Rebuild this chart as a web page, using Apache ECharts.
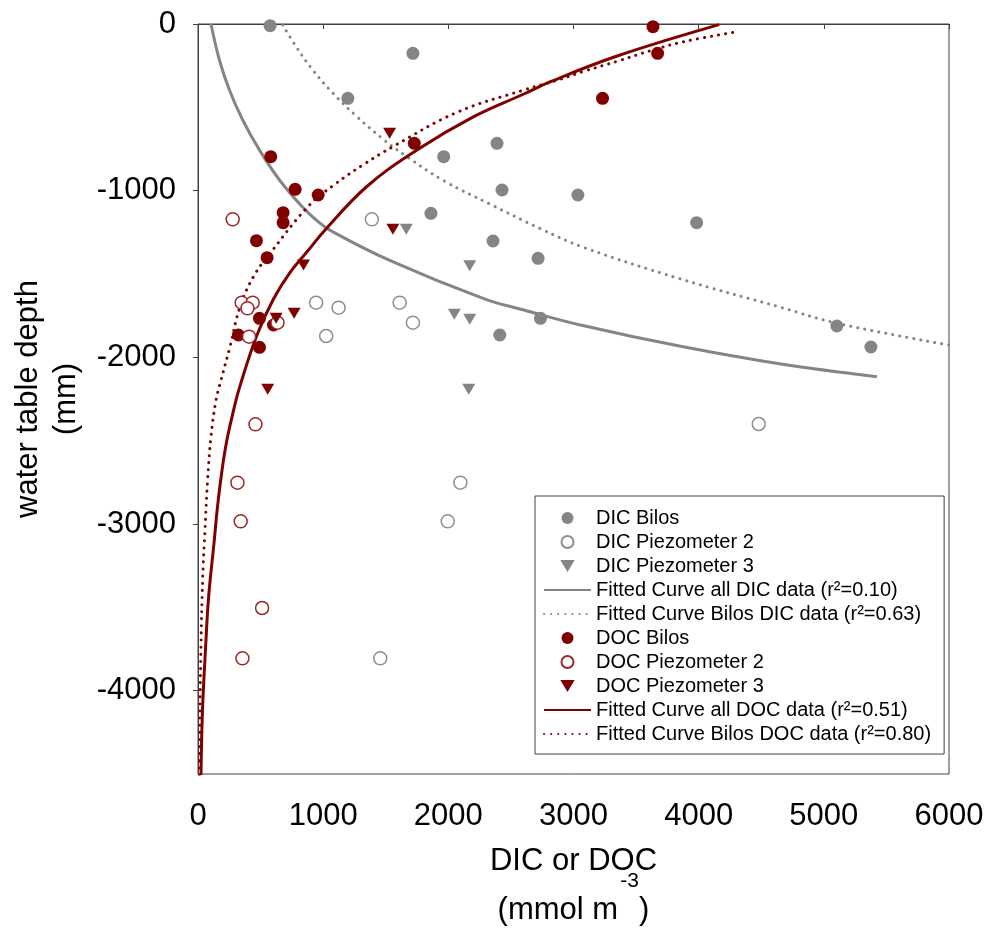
<!DOCTYPE html>
<html lang="en">
<head>
    <meta charset="UTF-8">
    <title>DIC / DOC vs water table depth</title>
    <script src="https://cdn.jsdelivr.net/npm/echarts@6/dist/echarts.min.js"></script>
    <style>
        body {
            margin: 0;
            padding: 0;
            background: #fff;
        }
        #chart {
            width: 990px;
            height: 940px;
        }
    </style>
</head>
<body>
<div id="chart"></div>
<script>
    // [concentration (mmol m-3), water table depth (mm)]
    const dicBilos = [[576, -10], [1717, -176], [1197, -446], [2389, -716], [1963, -796], [2429, -996],
        [3035, -1026], [1861, -1136], [3984, -1192], [2357, -1302], [2717, -1406], [2736, -1766],
        [5104, -1812], [2411, -1866], [5376, -1938]];
    const dicPiezo2 = [[1389, -1172], [944, -1672], [1611, -1672], [1123, -1702], [1717, -1792],
        [1024, -1872], [4480, -2400], [2096, -2752], [1995, -2984], [1456, -3806]];
    const dicPiezo3 = [[1664, -1232], [2171, -1450], [2048, -1742], [2171, -1772], [2163, -2192]];
    const docBilos = [[3635, -16], [3672, -176], [3232, -446], [1728, -716], [581, -796], [776, -992],
        [960, -1026], [680, -1132], [680, -1192], [467, -1300], [552, -1402], [491, -1766],
        [603, -1806], [323, -1866], [491, -1940]];
    const docPiezo2 = [[277, -1172], [349, -1672], [437, -1672], [395, -1706], [635, -1792],
        [408, -1876], [459, -2402], [315, -2752], [341, -2984], [512, -3504], [355, -3806]];
    const docPiezo3 = [[1531, -656], [1557, -1232], [843, -1446], [768, -1736], [624, -1766], [557, -2192]];

    // fitted curves
    const fitAllDic = [[104, 0], [171, -216], [251, -396], [357, -576], [491, -756], [651, -936],
        [837, -1100], [944, -1176], [1056, -1238], [1536, -1420], [2283, -1648], [2603, -1716],
        [3056, -1806], [3856, -1934], [4656, -2040], [5424, -2116]];
    const fitBilosDic = [[677, -6], [784, -136], [917, -276], [1077, -414], [1264, -552], [1477, -690],
        [1669, -796], [1963, -940], [2336, -1082], [2736, -1228], [3080, -1340], [3856, -1530],
        [4656, -1700], [5109, -1796], [6000, -1926]];
    const fitAllDoc = [[24, -4506], [35, -4136], [61, -3736], [85, -3436], [125, -3136], [165, -2836],
        [221, -2536], [291, -2296], [336, -2170], [469, -1870], [603, -1650], [736, -1490],
        [883, -1356], [1003, -1246], [1349, -975], [1749, -756], [2203, -556], [2603, -420],
        [2816, -346], [3349, -192], [4163, -4]];
    const fitBilosDoc = [[11, -4506], [16, -4136], [24, -3736], [37, -3336], [56, -3036], [77, -2736],
        [104, -2476], [144, -2256], [184, -2136], [256, -1936], [336, -1696], [443, -1516],
        [576, -1376], [891, -1086], [1104, -956], [1317, -846], [1557, -736], [2069, -530],
        [2603, -396], [2869, -338], [3083, -284], [3349, -224], [3616, -160], [3883, -106], [4277, -50]];

    const xTicks = [0, 1000, 2000, 3000, 4000, 5000, 6000];
    const yTicks = [0, -1000, -2000, -3000, -4000];

    const GRAY = '#858585';
    const RED = '#800000';
    const FONT = 'Liberation Sans, Arial, sans-serif';
    const TRI_DOWN = 'path://M0,0L12,0L6,10Z';

    function scatter(name, data, color, open, symbol) {
        return {
            name: name,
            type: 'scatter',
            data: data,
            z: 3,
            symbol: symbol || 'circle',
            symbolSize: symbol ? [13, 11] : 13,
            itemStyle: open
                ? { color: '#fff', borderColor: color, borderWidth: 1.5, opacity: 1 }
                : { color: color, opacity: 1 }
        };
    }

    function curve(name, data, color, dotted) {
        return {
            name: name,
            type: 'line',
            data: data,
            z: 2,
            symbol: 'none',
            smooth: 0.4,
            clip: true,
            itemStyle: { color: color },
            lineStyle: dotted
                ? { color: color, width: 3, type: [0.1, 7], cap: 'round' }
                : { color: color, width: 3 }
        };
    }

    // legend entries; curves get no marker in their icon
    const legendItems = [
        { name: 'DIC Bilos' },
        { name: 'DIC Piezometer 2' },
        { name: 'DIC Piezometer 3' },
        { name: 'Fitted Curve all DIC data (r²=0.10)', itemStyle: { opacity: 0 } },
        { name: 'Fitted Curve Bilos DIC data (r²=0.63)', itemStyle: { opacity: 0 } },
        { name: 'DOC Bilos' },
        { name: 'DOC Piezometer 2' },
        { name: 'DOC Piezometer 3' },
        { name: 'Fitted Curve all DOC data (r²=0.51)', itemStyle: { opacity: 0 } },
        { name: 'Fitted Curve Bilos DOC data (r²=0.80)', itemStyle: { opacity: 0 } }
    ];

    const chart = echarts.init(document.getElementById('chart'), null, { renderer: 'canvas' });

    chart.setOption({
        animation: false,
        textStyle: { fontFamily: FONT },
        grid: {
            left: 198, right: 41, top: 24, bottom: 166,
            show: true, borderColor: '#404040', borderWidth: 1,
            outerBoundsMode: 'none'
        },
        legend: {
            orient: 'vertical',
            left: 535, top: 496,
            padding: [12, 13, 10, 8],
            itemWidth: 47, itemHeight: 12, itemGap: 4, itemTextGap: 12,
            borderColor: '#404040', borderWidth: 1,
            backgroundColor: '#fff',
            textStyle: { fontSize: 20, color: '#000', fontFamily: FONT },
            data: legendItems
        },
        xAxis: {
            type: 'value', min: 0, max: 6000, interval: 1000,
            splitLine: { show: false },
            axisLine: { lineStyle: { color: '#404040' } },
            axisTick: { inside: false, length: 5, lineStyle: { color: '#404040' }, customValues: xTicks },
            axisLabel: { fontSize: 31, color: '#000', margin: 27, formatter: v => String(v), customValues: xTicks },
            name: '{t|DIC or DOC}\n{sup|-3}\n{t2|(mmol m}{sp|}{t2|)}',
            nameLocation: 'middle', nameGap: 72,
            nameTextStyle: {
                color: '#000',
                rich: {
                    t: { fontSize: 31, lineHeight: 30, color: '#000' },
                    sup: { fontSize: 21, lineHeight: 10, color: '#000', padding: [0, 0, 0, 112] },
                    t2: { fontSize: 31, lineHeight: 48, color: '#000' },
                    sp: { width: 21, lineHeight: 48 }
                }
            }
        },
        yAxis: {
            type: 'value', min: -4500, max: 0, interval: 500,
            splitLine: { show: false },
            axisLine: { lineStyle: { color: '#404040' } },
            axisTick: { inside: false, length: 5, lineStyle: { color: '#404040' }, customValues: yTicks },
            axisLabel: { fontSize: 31, color: '#000', margin: 22, formatter: v => String(v), customValues: yTicks },
            name: 'water table depth\n(mm)',
            nameLocation: 'middle', nameRotate: 90, nameGap: 100,
            nameTextStyle: { fontSize: 31, color: '#000', lineHeight: 38 }
        },
        series: [
            curve('Fitted Curve all DIC data (r²=0.10)', fitAllDic, GRAY, false),
            curve('Fitted Curve Bilos DIC data (r²=0.63)', fitBilosDic, GRAY, true),
            curve('Fitted Curve all DOC data (r²=0.51)', fitAllDoc, RED, false),
            curve('Fitted Curve Bilos DOC data (r²=0.80)', fitBilosDoc, RED, true),
            scatter('DIC Bilos', dicBilos, GRAY, false),
            scatter('DIC Piezometer 2', dicPiezo2, '#8f8f8f', true),
            scatter('DIC Piezometer 3', dicPiezo3, GRAY, false, TRI_DOWN),
            scatter('DOC Bilos', docBilos, RED, false),
            scatter('DOC Piezometer 2', docPiezo2, '#9a2a2a', true),
            scatter('DOC Piezometer 3', docPiezo3, RED, false, TRI_DOWN)
        ]
    });

    window.onresize = function () {
        chart.resize();
    };
</script>
</body>
</html>
